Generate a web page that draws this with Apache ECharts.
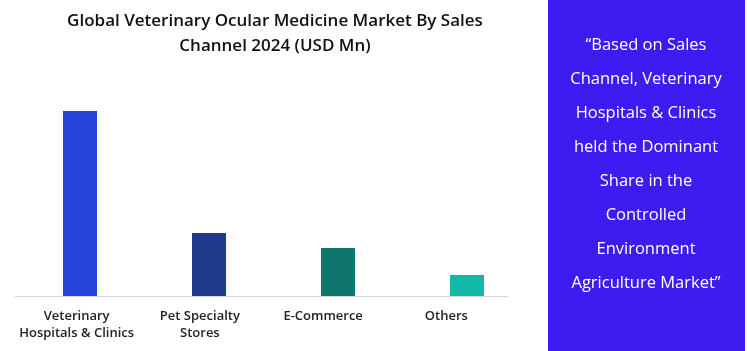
<!DOCTYPE html>
<html>
<head>
	<meta charset="UTF-8">
	<title></title>
	<script src="https://cdn.jsdelivr.net/npm/echarts@6/dist/echarts.min.js"></script>
	<style>
		html, body { margin: 0; padding: 0; background: #fff; }
		#main { width: 747px; height: 351px; }
	</style>
</head>
<body>
<div id="main"></div>
<script>
var categories = ['Veterinary\nHospitals & Clinics', 'Pet Specialty\nStores', 'E-Commerce', 'Others'];
var values = [185, 63, 48, 21];
var barColors = ['#2542DA', '#1F3A8A', '#0F766E', '#14B8A6'];
var note = '\u201cBased on Sales\nChannel, Veterinary\nHospitals & Clinics\nheld the Dominant\nShare in the\nControlled\nEnvironment\nAgriculture Market\u201d';

var myChart = echarts.init(document.getElementById('main'));
var option = {
	title: {
		text: 'Global Veterinary Ocular Medicine Market By Sales\nChannel 2024 (USD Mn)',
		left: 270,
		textAlign: 'center',
		top: 4,
		textStyle: {
			fontFamily: 'Open Sans',
			fontSize: 17,
			fontWeight: 600,
			color: '#111',
			lineHeight: 25
		}
	},
	grid: [
		// axis + labels
		{left: 15, top: 96, width: 493, bottom: 55},
		// bars
		{left: 15.5, top: 96, width: 516, bottom: 55}
	],
	xAxis: [
		{
			type: 'category',
			gridIndex: 0,
			data: categories,
			axisTick: {show: false},
			axisLine: {lineStyle: {color: '#d9d9d9', width: 1}},
			axisLabel: {
				interval: 0,
				margin: 12,
				fontFamily: 'Open Sans',
				fontSize: 13,
				fontWeight: 600,
				color: '#222',
				lineHeight: 17
			}
		},
		{
			type: 'category',
			gridIndex: 1,
			data: categories,
			show: false
		}
	],
	yAxis: [
		{type: 'value', gridIndex: 0, min: 0, max: 200, show: false},
		{type: 'value', gridIndex: 1, min: 0, max: 200, show: false}
	],
	series: [{
		type: 'bar',
		xAxisIndex: 1,
		yAxisIndex: 1,
		barWidth: 34,
		data: values.map(function (v, i) {
			return {value: v, itemStyle: {color: barColors[i]}};
		})
	}],
	graphic: [
		{
			type: 'rect',
			shape: {x: 548, y: 0, width: 197, height: 351},
			style: {fill: '#3C1CF0'}
		},
		{
			type: 'text',
			x: 646,
			y: 28,
			style: {
				text: note,
				textAlign: 'center',
				fill: '#fff',
				fontFamily: 'Open Sans',
				fontSize: 16.5,
				lineHeight: 34
			}
		}
	]
};
myChart.setOption(option);
</script>
</body>
</html>
